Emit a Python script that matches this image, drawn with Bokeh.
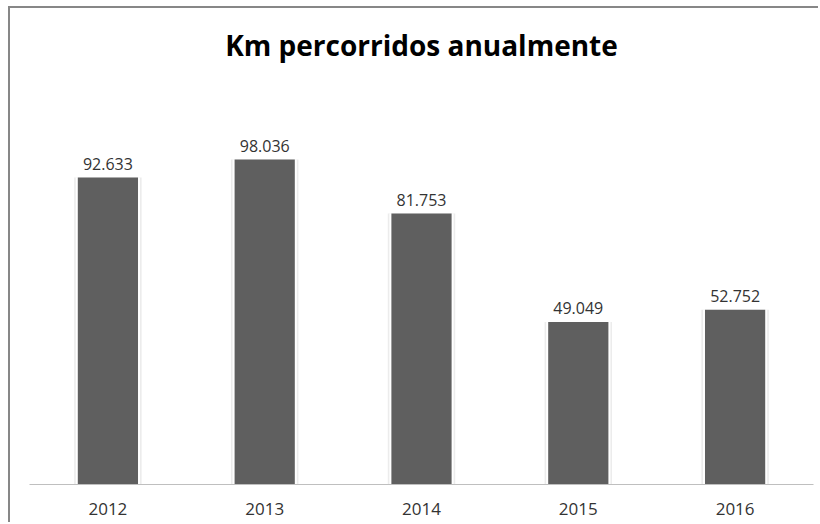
from bokeh.plotting import figure
from bokeh.models import FactorRange, Range1d, ColumnDataSource
from bokeh.core.properties import value
from bokeh.embed import file_html
from bokeh.resources import INLINE

title_text = "Km percorridos anualmente"
years = ["2012", "2013", "2014", "2015", "2016"]
km = [92633, 98036, 81753, 49049, 52752]
km_labels = ["92.633", "98.036", "81.753", "49.049", "52.752"]

src = ColumnDataSource(dict(x=years, top=km, lab=km_labels))

p = figure(
    x_range=FactorRange(factors=years, range_padding=0),
    y_range=Range1d(0, 125530),
    width=810, height=516,
    output_backend="svg", toolbar_location=None,
    min_border_left=19, min_border_right=7, min_border_bottom=40, min_border_top=60,
    title=title_text,
)
p.styles = {"border-left": "2px solid #878787", "border-top": "2px solid #878787",
            "margin-left": "8px", "margin-top": "6px"}
p.title.align = "center"
p.title.text_font = "Open Sans"
p.title.text_font_style = "bold"
p.title.text_font_size = "28px"
p.title.text_color = "#000000"

p.outline_line_color = None
p.xgrid.grid_line_color = None
p.ygrid.grid_line_color = None
p.yaxis.visible = False
p.xaxis.axis_line_color = "#bfbfbf"
p.xaxis.axis_line_width = 1
p.xaxis.major_tick_line_color = None
p.xaxis.minor_tick_line_color = None
p.xaxis.major_label_text_font = "Open Sans"
p.xaxis.major_label_text_font_size = "17px"
p.xaxis.major_label_text_color = "#333333"
p.xaxis.major_label_standoff = 12

p.vbar(x="x", top="top", width=0.43, source=src, fill_color="#ececec", line_color=None)
p.vbar(x="x", top="top", width=0.41, source=src, fill_color="#ffffff", line_color=None)
p.vbar(x="x", top="top", width=0.384, source=src, fill_color="#5f5f5f", line_color=None)

p.text(x="x", y="top", text="lab", source=src, text_align="center", text_baseline="alphabetic",
       y_offset=-14, text_font=value("Open Sans"), text_font_size="16px", text_color="#333333")

open("out.html", "w").write(file_html(p, INLINE))
